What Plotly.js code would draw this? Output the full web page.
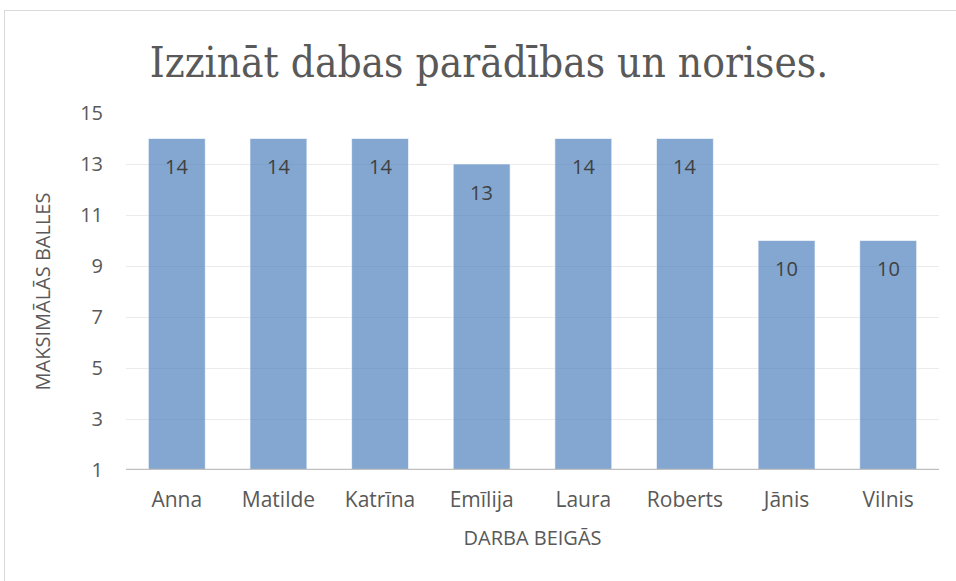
<!DOCTYPE html>
<html>
<head>
<meta charset="utf-8">
<script src="https://cdn.plot.ly/plotly-3.0.1.min.js"></script>
<style>
html,body{margin:0;padding:0;background:#fff;}
#chart{width:956px;height:581px;position:relative;}
#frame{position:absolute;left:4px;top:10px;width:960px;height:600px;border:1px solid #d9d9d9;pointer-events:none;}
</style>
</head>
<body>
<div id="chart"></div>
<div id="frame"></div>
<script>
const categories = ["Anna","Matilde","Katrīna","Emīlija","Laura","Roberts","Jānis","Vilnis"];
const values = [14,14,14,13,14,14,10,10];
const tickVals = [1,3,5,7,9,11,13,15];
const titleText = "Izzināt dabas parādības un norises.";
const yTitle = "MAKSIMĀLĀS BALLES";
const xTitle = "DARBA BEIGĀS";

const font = "'Open Sans', sans-serif";
const annotations = categories.map((c,i)=>({
  x:c, y:values[i], xref:'x', yref:'y', text:String(values[i]),
  showarrow:false, yanchor:'middle', yshift:-28,
  font:{family:font,size:20,color:'#404040'}
}));

Plotly.newPlot('chart',[{
  type:'bar', x:categories, y:values,
  marker:{color:'rgba(79,129,189,0.7)', line:{color:'rgba(255,255,255,0.6)',width:1}},
  hoverinfo:'none'
}],{
  width:956,height:581,
  margin:{l:126,r:17,t:113,b:111},
  paper_bgcolor:'#fff',plot_bgcolor:'#fff',
  bargap:0.44,
  showlegend:false,
  title:{text:titleText, x:489/956, xanchor:'center', xref:'container',
         y:1-62/581, yanchor:'middle', yref:'container',
         font:{family:"'DejaVu Serif Condensed', 'DejaVu Serif', serif", size:42, color:'#595959'}},
  xaxis:{type:'category', tickfont:{family:font,size:21,color:'#595959'},
         showgrid:false, showline:false, ticks:'', ticklabelstandoff:15,
         title:{text:xTitle, standoff:18, font:{family:font,size:20,color:'#595959'}}},
  yaxis:{range:[1,15], tickvals:tickVals, tickfont:{family:font,size:20,color:'#595959'},
         showgrid:true, gridcolor:'#ebebeb', gridwidth:1,
         zeroline:false, showline:false, ticks:'', ticklabelstandoff:22,
         title:{text:yTitle, standoff:24, font:{family:font,size:20,color:'#595959'}}},
  shapes:[{type:'line', xref:'paper', yref:'y', x0:0, x1:1, y0:1, y1:1,
           line:{color:'#bfbfbf', width:2.5}}],
  annotations:annotations
},{staticPlot:true});
</script>
</body>
</html>
